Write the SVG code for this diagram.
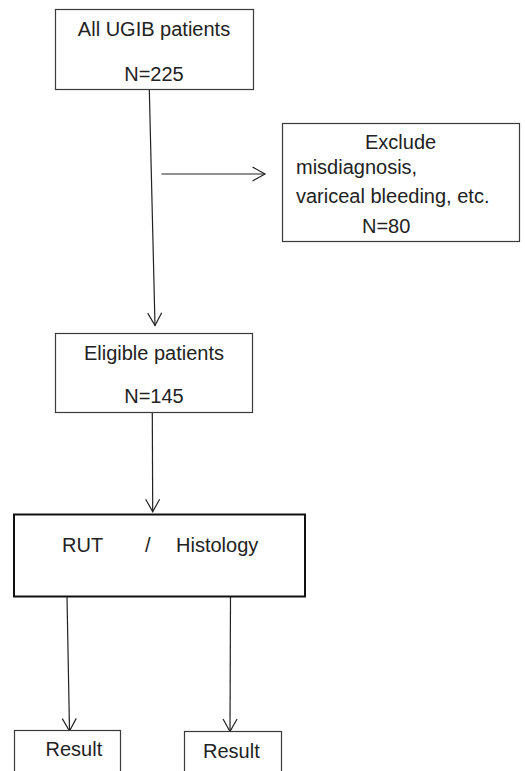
<svg xmlns="http://www.w3.org/2000/svg" width="525" height="771" viewBox="0 0 525 771">
<style>
  .box { fill: #fff; stroke: #3a3a3a; stroke-width: 1.2; }
  .thick { fill: #fff; stroke: #111; stroke-width: 2; }
  .t { font-family: "Liberation Sans", Arial, sans-serif; font-size: 20px; fill: #222; }
  .c { text-anchor: middle; }
  .ln { fill: none; stroke: #222; stroke-width: 1.2; }
</style>
<defs>
  <marker id="v" viewBox="-14 -8 16 16" markerWidth="16" markerHeight="16" refX="0" refY="0" orient="auto" markerUnits="userSpaceOnUse">
    <path d="M-12.5,-7 L0,0 L-12.5,7" fill="none" stroke="#222" stroke-width="1.2"/>
  </marker>
</defs>
<rect width="525" height="771" fill="#fff"/>
<g id="connectors">
  <line class="ln" x1="149.3" y1="89.5" x2="155" y2="325.5" marker-end="url(#v)"/>
  <line class="ln" x1="161.5" y1="174" x2="265" y2="174" marker-end="url(#v)"/>
  <line class="ln" x1="152.3" y1="413" x2="152.7" y2="511.7" marker-end="url(#v)"/>
  <line class="ln" x1="67" y1="597" x2="69.5" y2="731" marker-end="url(#v)"/>
  <line class="ln" x1="230.5" y1="597" x2="230" y2="731.5" marker-end="url(#v)"/>
</g>
<g id="n1">
  <rect class="box" x="55.5" y="9.5" width="198" height="80"/>
  <text class="t c" x="154" y="36">All UGIB patients</text>
  <text class="t c" x="154" y="81">N=225</text>
</g>
<g id="n2">
  <rect class="box" x="282.5" y="123.5" width="237" height="118"/>
  <text class="t" x="365" y="149">Exclude</text>
  <text class="t" x="296" y="174">misdiagnosis,</text>
  <text class="t" x="296" y="203">variceal bleeding, etc.</text>
  <text class="t" x="362" y="233">N=80</text>
</g>
<g id="n3">
  <rect class="box" x="55.5" y="333.5" width="197" height="79"/>
  <text class="t c" x="154" y="360">Eligible patients</text>
  <text class="t c" x="154" y="403">N=145</text>
</g>
<g id="n4">
  <rect class="thick" x="14" y="514.5" width="291" height="82"/>
  <text class="t" y="552"><tspan x="62">RUT</tspan><tspan x="145">/</tspan><tspan x="176">Histology</tspan></text>
</g>
<g id="n5">
  <rect class="box" x="14.5" y="730.5" width="106" height="60"/>
  <text class="t" x="45.5" y="756">Result</text>
</g>
<g id="n6">
  <rect class="box" x="184.5" y="731.5" width="97" height="60"/>
  <text class="t" x="203" y="758">Result</text>
</g>
</svg>
